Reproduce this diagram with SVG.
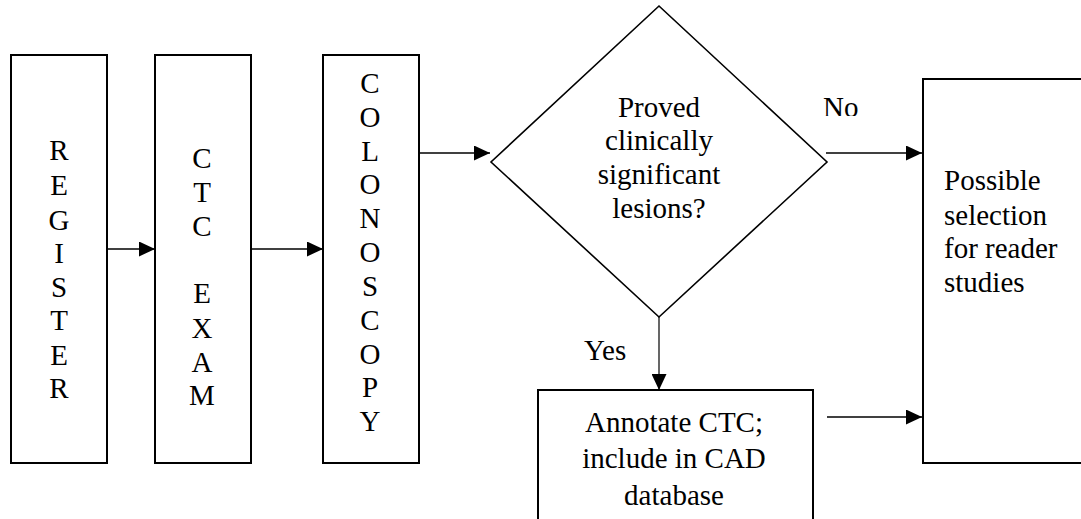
<svg xmlns="http://www.w3.org/2000/svg" width="1081" height="519" viewBox="0 0 1081 519" font-family="'Liberation Serif', 'Times New Roman', Times, serif">
<style>
.box{fill:#fff;stroke:#000;stroke-width:2}
.dia{fill:#fff;stroke:#000;stroke-width:1.6}
text{font-family:'Liberation Serif','Times New Roman',Times,serif;font-size:29px;fill:#000}
.c{text-anchor:middle}
.ln{stroke:#000;stroke-width:1.6;fill:none}
.thin{stroke:#000;stroke-width:1.2;fill:none}
</style>
<defs>
<marker id="ah" markerWidth="16" markerHeight="15" refX="16" refY="7.5" orient="auto" markerUnits="userSpaceOnUse">
<path d="M0,0 L16,7.5 L0,15 Z" fill="#000"/>
</marker>
<clipPath id="noclip"><rect x="800" y="80" width="80" height="36"/></clipPath>
</defs>
<rect width="1081" height="519" fill="#fff"/>
<g id="register">
<rect class="box" x="11" y="55" width="96" height="408"/>
<text class="c" x="59" y="160">R</text>
<text class="c" x="59" y="195">E</text>
<text class="c" x="59" y="230">G</text>
<text class="c" x="59" y="263">I</text>
<text class="c" x="59" y="297">S</text>
<text class="c" x="59" y="330">T</text>
<text class="c" x="59" y="365">E</text>
<text class="c" x="59" y="398">R</text>
</g>
<g id="ctc-exam">
<rect class="box" x="155" y="55" width="96" height="408"/>
<text class="c" x="202" y="168">C</text>
<text class="c" x="202" y="202">T</text>
<text class="c" x="202" y="236">C</text>
<text class="c" x="202" y="303">E</text>
<text class="c" x="202" y="338">X</text>
<text class="c" x="202" y="372">A</text>
<text class="c" x="202" y="405">M</text>
</g>
<g id="colonoscopy">
<rect class="box" x="323" y="55" width="96" height="408"/>
<text class="c" x="370" y="93">C</text>
<text class="c" x="370" y="127">O</text>
<text class="c" x="370" y="161">L</text>
<text class="c" x="370" y="194">O</text>
<text class="c" x="370" y="228">N</text>
<text class="c" x="370" y="262">O</text>
<text class="c" x="370" y="296">S</text>
<text class="c" x="370" y="330">C</text>
<text class="c" x="370" y="364">O</text>
<text class="c" x="370" y="397">P</text>
<text class="c" x="370" y="431">Y</text>
</g>
<g id="decision">
<polygon class="dia" points="659,6 827,162 659,317 491,162"/>
<text class="c" x="659" y="117">Proved</text>
<text class="c" x="659" y="150">clinically</text>
<text class="c" x="659" y="184">significant</text>
<text class="c" x="659" y="218">lesions?</text>
</g>
<g id="annotate">
<rect class="box" x="538" y="390" width="275" height="140"/>
<text class="c" x="674" y="432">Annotate CTC;</text>
<text class="c" x="674" y="468">include in CAD</text>
<text class="c" x="674" y="505">database</text>
</g>
<g id="selection">
<path class="box" d="M1090,79 L923,79 L923,463 L1090,463"/>
<text x="944" y="190">Possible</text>
<text x="944" y="225">selection</text>
<text x="944" y="258">for reader</text>
<text x="944" y="292">studies</text>
</g>
<g id="connectors">
<line class="ln" x1="107" y1="249" x2="155" y2="249" marker-end="url(#ah)"/>
<line class="ln" x1="251" y1="249" x2="323" y2="249" marker-end="url(#ah)"/>
<line class="ln" x1="419" y1="153" x2="490" y2="153" marker-end="url(#ah)"/>
<line class="ln" x1="826" y1="153" x2="922" y2="153" marker-end="url(#ah)"/>
<line class="thin" x1="659" y1="317" x2="659" y2="390" marker-end="url(#ah)"/>
<line class="ln" x1="827" y1="417" x2="922" y2="417" marker-end="url(#ah)"/>
<text x="823" y="117" clip-path="url(#noclip)">No</text>
<text x="584" y="360">Yes</text>
</g>
</svg>
